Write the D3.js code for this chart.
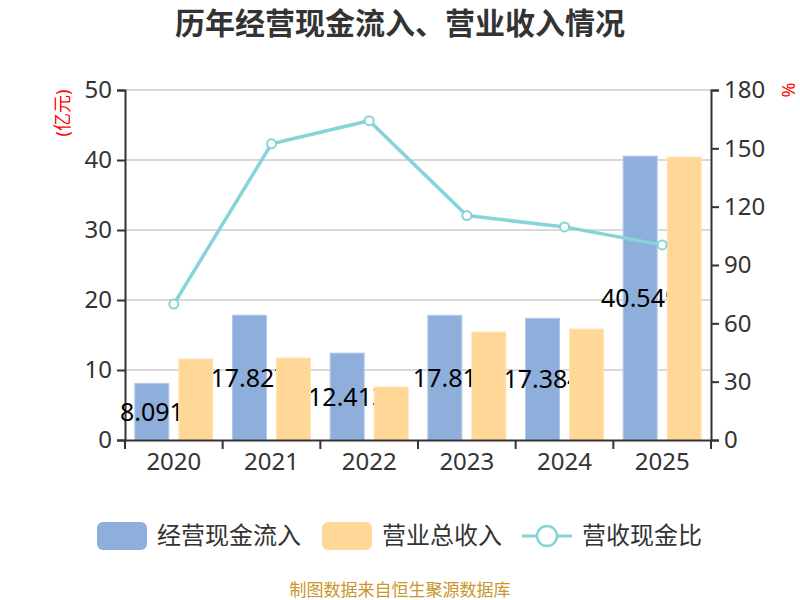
<!DOCTYPE html>
<html>
<head>
<meta charset="utf-8">
<script src="https://cdn.jsdelivr.net/npm/d3@7"></script>
<style>
  body { margin: 0; background: #fff; }
  text { font-family: "Noto Sans", "Noto Sans CJK SC", sans-serif; }
</style>
</head>
<body>
<div id="chart"></div>
<script>
const years = ['2020', '2021', '2022', '2023', '2024', '2025'];
const cashIn = [8.091, 17.827, 12.413, 17.81, 17.384, 40.549];
const revenue = [11.57, 11.71, 7.57, 15.43, 15.86, 40.43];
const ratio = [69.9, 152.3, 164.2, 115.4, 109.6, 100.3];
const leftTicks = [0, 10, 20, 30, 40, 50];
const rightTicks = [0, 30, 60, 90, 120, 150, 180];

const seriesNames = ['经营现金流入', '营业总收入', '营收现金比'];
const blue = '#8eaedb', orange = '#ffd898', teal = '#86d4d8';

const W = 800, H = 600;
const margin = { top: 90, right: 89, bottom: 160, left: 125 };
const width = W - margin.left - margin.right;
const height = H - margin.top - margin.bottom;

const svg = d3.select('#chart').append('svg')
  .attr('width', W).attr('height', H);

// 标题
svg.append('text')
  .attr('x', W / 2).attr('y', 34)
  .attr('text-anchor', 'middle')
  .style('font-size', '30px').style('font-weight', 'bold').style('fill', '#333')
  .text('历年经营现金流入、营业收入情况');

const g = svg.append('g').attr('transform', `translate(${margin.left},${margin.top})`);

const x = d3.scaleBand().domain(years).range([0, width]).padding(0);
const xs = d3.scaleBand().domain([0, 1]).range([0, x.bandwidth()])
  .paddingInner(0.227).paddingOuter(0.223);
const yL = d3.scaleLinear().domain([0, 50]).range([height, 0]);
const yR = d3.scaleLinear().domain([0, 180]).range([height, 0]);

// 网格线
g.append('g')
  .selectAll('line').data(leftTicks.slice(1)).enter().append('line')
  .attr('x1', 0).attr('x2', width)
  .attr('y1', d => yL(d)).attr('y2', d => yL(d))
  .attr('stroke', '#ccc').attr('stroke-width', 1.5);

// 左轴
const axL = g.append('g')
  .call(d3.axisLeft(yL).tickValues(leftTicks).tickSize(8).tickPadding(5));
// 右轴
const axR = g.append('g').attr('transform', `translate(${width},0)`)
  .call(d3.axisRight(yR).tickValues(rightTicks).tickSize(8).tickPadding(5));
[axL, axR].forEach(a => {
  a.select('.domain').attr('stroke', '#333').attr('stroke-width', 2);
  a.selectAll('.tick line').attr('stroke', '#333').attr('stroke-width', 2);
  a.selectAll('.tick text').style('font-size', '24px').style('fill', '#333')
    .style('font-family', '"Noto Sans", sans-serif');
});

// 柱子：蓝色
g.selectAll('.bar-cash').data(years).enter().append('rect')
  .attr('x', d => x(d) + xs(0))
  .attr('y', (d, i) => yL(cashIn[i]))
  .attr('width', xs.bandwidth())
  .attr('height', (d, i) => height - yL(cashIn[i]))
  .attr('fill', blue)
  .attr('stroke', '#b4c9e8').attr('stroke-width', 1);

// 数据标签（被橙色柱遮挡）
g.selectAll('.lbl').data(years).enter().append('text')
  .attr('x', d => x(d) + xs(0) + xs.bandwidth() / 2)
  .attr('y', (d, i) => (yL(cashIn[i]) + height) / 2)
  .attr('dy', '0.36em')
  .attr('text-anchor', 'middle')
  .style('font-size', '25px').style('fill', '#000')
  .text((d, i) => cashIn[i]);

// 柱子：橙色
g.selectAll('.bar-rev').data(years).enter().append('rect')
  .attr('x', d => x(d) + xs(1))
  .attr('y', (d, i) => yL(revenue[i]))
  .attr('width', xs.bandwidth())
  .attr('height', (d, i) => height - yL(revenue[i]))
  .attr('fill', orange)
  .attr('stroke', '#ffe4b8').attr('stroke-width', 1);

// x轴
const axB = g.append('g').attr('transform', `translate(0,${height})`)
  .call(d3.axisBottom(x).tickSize(0).tickPadding(13));
axB.select('.domain').attr('stroke', '#333').attr('stroke-width', 2);
axB.selectAll('.tick text').style('font-size', '24px').style('fill', '#333');
g.append('g').selectAll('line')
  .data(years.map(d => x(d)).concat([width])).enter().append('line')
  .attr('x1', d => d).attr('x2', d => d)
  .attr('y1', height).attr('y2', height + 9)
  .attr('stroke', '#333').attr('stroke-width', 2);

// 折线
const line = d3.line()
  .x((d, i) => x(years[i]) + x.bandwidth() / 2)
  .y(d => yR(d));
g.append('path').datum(ratio)
  .attr('d', line)
  .attr('fill', 'none').attr('stroke', teal).attr('stroke-width', 3.5);
g.selectAll('.pt').data(ratio).enter().append('circle')
  .attr('cx', (d, i) => x(years[i]) + x.bandwidth() / 2)
  .attr('cy', d => yR(d))
  .attr('r', 4.5)
  .attr('fill', '#fff').attr('stroke', teal).attr('stroke-width', 2);

// 单位
svg.append('text')
  .attr('transform', 'translate(63,113) rotate(-90)')
  .attr('text-anchor', 'middle').attr('dy', '0.35em')
  .style('font-size', '18px').style('fill', '#f00')
  .text('(亿元)');
svg.append('text')
  .attr('transform', 'translate(788,90) rotate(90)')
  .attr('text-anchor', 'middle').attr('dy', '0.35em')
  .style('font-size', '18px').style('fill', '#f00')
  .text('%');

// 图例
const legendY = 536;
const lg = svg.append('g');
lg.append('rect').attr('x', 97).attr('y', legendY - 14).attr('width', 50).attr('height', 28)
  .attr('rx', 6).attr('fill', blue);
lg.append('text').attr('x', 157).attr('y', legendY).attr('dy', '0.35em')
  .style('font-size', '24px').style('fill', '#333').text(seriesNames[0]);
lg.append('rect').attr('x', 322).attr('y', legendY - 14).attr('width', 50).attr('height', 28)
  .attr('rx', 6).attr('fill', orange);
lg.append('text').attr('x', 382).attr('y', legendY).attr('dy', '0.35em')
  .style('font-size', '24px').style('fill', '#333').text(seriesNames[1]);
lg.append('line').attr('x1', 522).attr('x2', 572).attr('y1', legendY).attr('y2', legendY)
  .attr('stroke', teal).attr('stroke-width', 3);
lg.append('circle').attr('cx', 547).attr('cy', legendY).attr('r', 10)
  .attr('fill', '#fff').attr('stroke', teal).attr('stroke-width', 2.5);
lg.append('text').attr('x', 582).attr('y', legendY).attr('dy', '0.35em')
  .style('font-size', '24px').style('fill', '#333').text(seriesNames[2]);

// 来源
svg.append('text')
  .attr('x', W / 2).attr('y', 590).attr('dy', '0.35em')
  .attr('text-anchor', 'middle')
  .style('font-size', '17px').style('fill', '#c9962a')
  .text('制图数据来自恒生聚源数据库');
</script>
</body>
</html>
